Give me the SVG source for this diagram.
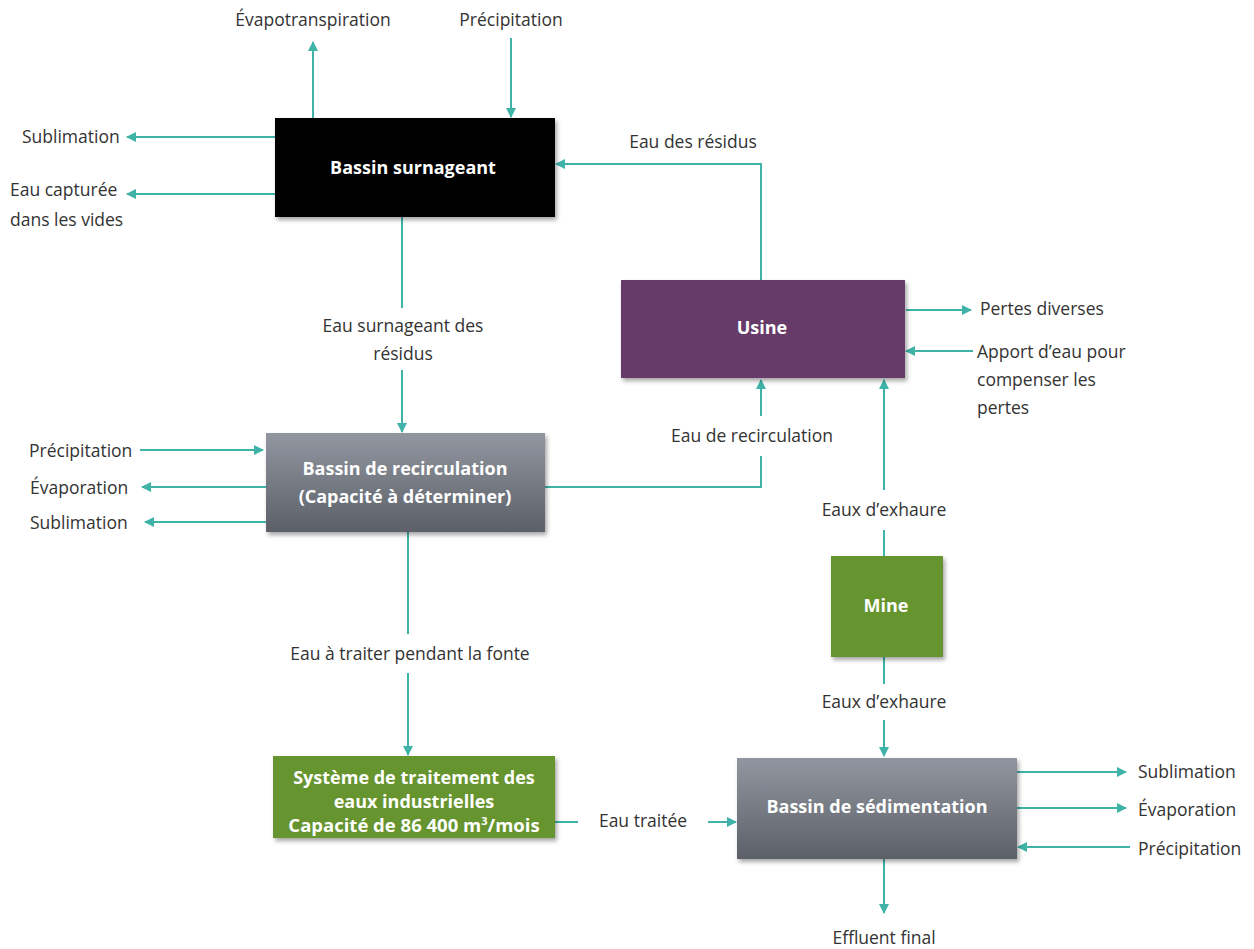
<svg xmlns="http://www.w3.org/2000/svg" width="1254" height="949" viewBox="0 0 1254 949">
<defs>
  <marker id="ah" viewBox="0 0 10 10" refX="9" refY="5" markerWidth="10" markerHeight="10" markerUnits="userSpaceOnUse" orient="auto">
    <path d="M0,0 L10,5 L0,10 z" fill="#3fb3a8"/>
  </marker>
  <linearGradient id="gray" x1="0" y1="0" x2="0" y2="1">
    <stop offset="0" stop-color="#9196a0"/>
    <stop offset="1" stop-color="#5c6068"/>
  </linearGradient>
  <filter id="sh" x="-10%" y="-10%" width="125%" height="130%">
    <feDropShadow dx="2" dy="3" stdDeviation="2" flood-color="#000" flood-opacity="0.35"/>
  </filter>
</defs>
<style>
  .c { fill: none; stroke: #3fb3a8; stroke-width: 2; }
  .a { marker-end: url(#ah); }
  .t { font-family: "Open Sans", "Liberation Sans", sans-serif; font-size: 17.5px; fill: #333; }
  .b { font-family: "Open Sans", "Liberation Sans", sans-serif; font-size: 18px; font-weight: bold; fill: #fff; text-anchor: middle; }
  .m { text-anchor: middle; }
</style>
<rect width="1254" height="949" fill="#fff"/>

<g id="connectors">
  <!-- Bassin surnageant -->
  <line class="c a" x1="313" y1="118" x2="313" y2="42"/>
  <line class="c a" x1="511" y1="38" x2="511" y2="117"/>
  <line class="c a" x1="275" y1="137" x2="127" y2="137"/>
  <line class="c a" x1="275" y1="194" x2="127" y2="194"/>
  <polyline class="c a" points="761,280 761,164 556,164"/>
  <line class="c" x1="402" y1="217" x2="402" y2="308"/>
  <line class="c a" x1="402" y1="370" x2="402" y2="432"/>
  <!-- Usine -->
  <line class="c a" x1="906" y1="310" x2="971" y2="310"/>
  <line class="c a" x1="973" y1="351" x2="906" y2="351"/>
  <!-- Recirculation -->
  <line class="c a" x1="140" y1="450" x2="263" y2="450"/>
  <line class="c a" x1="266" y1="487" x2="142" y2="487"/>
  <line class="c a" x1="266" y1="522" x2="145" y2="522"/>
  <polyline class="c" points="545,487 761,487 761,456"/>
  <line class="c a" x1="761" y1="416" x2="761" y2="380"/>
  <line class="c" x1="408" y1="532" x2="408" y2="634"/>
  <line class="c a" x1="408" y1="673" x2="408" y2="755"/>
  <!-- Mine -->
  <line class="c" x1="884" y1="556" x2="884" y2="530"/>
  <line class="c a" x1="884" y1="490" x2="884" y2="380"/>
  <line class="c" x1="884" y1="657" x2="884" y2="684"/>
  <line class="c a" x1="884" y1="720" x2="884" y2="756"/>
  <!-- Systeme -> sedimentation -->
  <line class="c" x1="555" y1="822" x2="578" y2="822"/>
  <line class="c a" x1="708" y1="822" x2="736" y2="822"/>
  <!-- Sedimentation -->
  <line class="c a" x1="1017" y1="772" x2="1126" y2="772"/>
  <line class="c a" x1="1017" y1="808" x2="1126" y2="808"/>
  <line class="c a" x1="1130" y1="847" x2="1018" y2="847"/>
  <line class="c a" x1="884" y1="859" x2="884" y2="913"/>
</g>

<g id="labels">
  <text class="t m" x="313" y="26">Évapotranspiration</text>
  <text class="t m" x="511" y="26">Précipitation</text>
  <text class="t" x="22" y="143">Sublimation</text>
  <text class="t" x="10" y="196">Eau capturée</text>
  <text class="t" x="10" y="226">dans les vides</text>
  <text class="t m" x="693" y="148">Eau des résidus</text>
  <text class="t m" x="403" y="332">Eau surnageant des</text>
  <text class="t m" x="403" y="360">résidus</text>
  <text class="t" x="980" y="315">Pertes diverses</text>
  <text class="t" x="977" y="358">Apport d’eau pour</text>
  <text class="t" x="977" y="386">compenser les</text>
  <text class="t" x="977" y="414">pertes</text>
  <text class="t" x="29" y="457">Précipitation</text>
  <text class="t" x="30" y="494">Évaporation</text>
  <text class="t" x="30" y="529">Sublimation</text>
  <text class="t m" x="752" y="442">Eau de recirculation</text>
  <text class="t m" x="884" y="516">Eaux d’exhaure</text>
  <text class="t m" x="884" y="708">Eaux d’exhaure</text>
  <text class="t m" x="410" y="660">Eau à traiter pendant la fonte</text>
  <text class="t m" x="643" y="827">Eau traitée</text>
  <text class="t" x="1138" y="778">Sublimation</text>
  <text class="t" x="1138" y="816">Évaporation</text>
  <text class="t" x="1138" y="855">Précipitation</text>
  <text class="t m" x="884" y="944">Effluent final</text>
</g>

<g id="bassin-surnageant">
  <rect x="275" y="118" width="280" height="99" fill="#000" filter="url(#sh)"/>
  <text class="b" x="413" y="174">Bassin surnageant</text>
</g>

<g id="usine">
  <rect x="621" y="280" width="284" height="98" fill="#663a6a" filter="url(#sh)"/>
  <text class="b" x="762" y="334">Usine</text>
</g>

<g id="bassin-recirculation">
  <rect x="266" y="433" width="279" height="99" fill="url(#gray)" filter="url(#sh)"/>
  <text class="b" x="405" y="475">Bassin de recirculation</text>
  <text class="b" x="405" y="503">(Capacité à déterminer)</text>
</g>

<g id="mine">
  <rect x="831" y="556" width="112" height="101" fill="#66942f" filter="url(#sh)"/>
  <text class="b" x="886" y="612">Mine</text>
</g>

<g id="systeme-traitement">
  <rect x="273" y="756" width="282" height="82" fill="#66942f" filter="url(#sh)"/>
  <text class="b" x="414" y="784">Système de traitement des</text>
  <text class="b" x="414" y="808">eaux industrielles</text>
  <text class="b" x="414" y="832" style="font-size:18.5px">Capacité de 86 400 m<tspan dy="-7" style="font-size:11px">3</tspan><tspan dy="7">/mois</tspan></text>
</g>

<g id="bassin-sedimentation">
  <rect x="737" y="758" width="280" height="101" fill="url(#gray)" filter="url(#sh)"/>
  <text class="b" x="877" y="813">Bassin de sédimentation</text>
</g>
</svg>
